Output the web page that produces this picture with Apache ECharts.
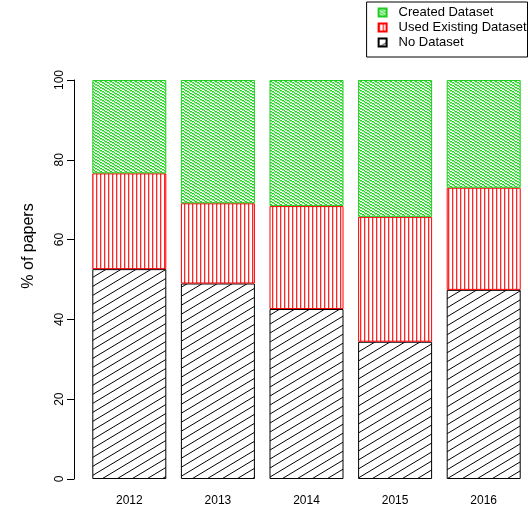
<!DOCTYPE html>
<html>
<head>
<meta charset="utf-8">
<script src="https://cdn.jsdelivr.net/npm/echarts@6/dist/echarts.min.js"></script>
<style>
html,body{margin:0;padding:0;background:#fff;}
#chart{width:528px;height:508px;}
</style>
</head>
<body>
<div id="chart"></div>
<script>
// ---- data ----
var years = ['2012', '2013', '2014', '2015', '2016'];
var noDataset = [52.6, 49.0, 42.6, 34.4, 47.4];
var usedExisting = [24.0, 20.1, 25.8, 31.3, 25.6];
var createdDataset = [23.4, 30.9, 31.6, 34.3, 27.0];
var seriesNames = ['No Dataset', 'Used Existing Dataset', 'Created Dataset'];
var legendOrder = ['Created Dataset', 'Used Existing Dataset', 'No Dataset'];
var yTicks = [0, 20, 40, 60, 80, 100];
var yTitle = '% of papers';

// ---- hatch patterns ----
function blackHatch() {
  var w = 15, h = 9;
  var c = document.createElement('canvas'); c.width = w; c.height = h;
  var g = c.getContext('2d');
  g.fillStyle = '#fff'; g.fillRect(0, 0, w, h);
  g.strokeStyle = '#000'; g.lineWidth = 1;
  [[0,0],[-w,0],[w,0],[0,-h],[0,h]].forEach(function (o) {
    g.beginPath(); g.moveTo(o[0], h + o[1]); g.lineTo(w + o[0], o[1]); g.stroke();
  });
  return c;
}
function redHatch() {
  var w = 4, h = 4;
  var c = document.createElement('canvas'); c.width = w; c.height = h;
  var g = c.getContext('2d');
  g.fillStyle = '#fff'; g.fillRect(0, 0, w, h);
  g.fillStyle = 'rgba(255,0,0,0.85)'; g.fillRect(0, 0, 1, h);
  g.fillStyle = 'rgba(255,0,0,0.25)'; g.fillRect(1, 0, 1, h);
  return c;
}
function greenHatch() {
  var w = 5, h = 3;
  var c = document.createElement('canvas'); c.width = w; c.height = h;
  var g = c.getContext('2d');
  g.fillStyle = '#fff'; g.fillRect(0, 0, w, h);
  for (var x = 0; x < w; x++) {
    var y = Math.floor(x * h / w);
    g.fillStyle = '#9be89b'; g.fillRect(x, (y + 1) % h, 1, 1);
    g.fillStyle = '#1ed81e'; g.fillRect(x, y, 1, 1);
  }
  return c;
}

var font = 'Liberation Sans, Arial, Helvetica, sans-serif';
var chart = echarts.init(document.getElementById('chart'), null, {renderer: 'canvas'});

function mk(name, data, pattern, border) {
  return {
    name: name, type: 'bar', stack: 'total', data: data,
    barWidth: 74,
    itemStyle: { color: { image: pattern, repeat: 'repeat' }, borderColor: border, borderWidth: 1 },
    emphasis: { disabled: true }
  };
}

chart.setOption({
  animation: false,
  textStyle: { fontFamily: font },
  legend: {
    orient: 'vertical',
    right: 0.5, top: 2,
    data: legendOrder,
    itemWidth: 8, itemHeight: 8, itemGap: 2,
    icon: 'rect',
    padding: [4, 1, 8, 11],
    borderColor: '#000', borderWidth: 1,
    textStyle: { fontFamily: font, fontSize: 13, color: '#000', lineHeight: 13, padding: [0, 0, 0, 7] },
    selectedMode: false
  },
  grid: { left: 85, right: 0, top: 80, bottom: 29, containLabel: false },
  xAxis: {
    type: 'category', data: years,
    axisLine: { show: false }, axisTick: { show: false },
    axisLabel: { color: '#000', fontSize: 12, fontFamily: font, margin: 16 }
  },
  yAxis: {
    type: 'value', min: yTicks[0], max: yTicks[yTicks.length - 1], interval: 20,
    offset: 11,
    axisLine: { show: true, lineStyle: { color: '#000', width: 1 } },
    axisTick: { show: true, length: 7, lineStyle: { color: '#000' } },
    axisLabel: { color: '#000', fontSize: 12, fontFamily: font, rotate: 90, margin: 8 },
    splitLine: { show: false }
  },
  graphic: [{
    type: 'text', x: 29, y: 246, rotation: Math.PI / 2,
    style: { text: yTitle, fill: '#000', font: '16px ' + font, align: 'center', verticalAlign: 'middle' }
  }],
  series: [
    mk(seriesNames[0], noDataset, blackHatch(), '#000'),
    mk(seriesNames[1], usedExisting, redHatch(), '#ff0000'),
    mk(seriesNames[2], createdDataset, greenHatch(), '#22cc22')
  ]
});
</script>
</body>
</html>
